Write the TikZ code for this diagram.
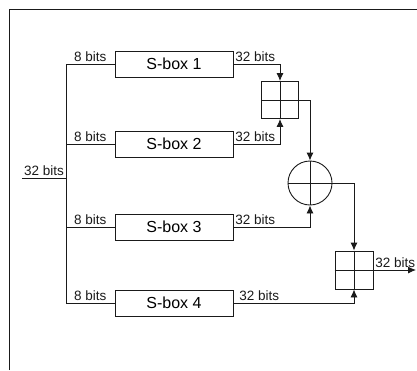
\documentclass[tikz,border=0pt]{standalone}
\usepackage{fontspec}
\setmainfont{Liberation Sans}
\usetikzlibrary{arrows.meta, positioning, shapes.geometric}
\definecolor{trait}{HTML}{1A1A1A}

\tikzset{
  sboite/.style={draw=trait, line width=0.9pt, minimum width=118pt, minimum height=26pt,
    inner sep=0pt, font=\fontsize{16}{16}\selectfont},
  addmod/.style={draw=trait, line width=0.9pt, minimum size=37pt, inner sep=0pt},
  ouex/.style={draw=trait, line width=0.9pt, circle, minimum size=44pt, inner sep=0pt},
  fil/.style={draw=trait, line width=0.9pt},
  fleche/.style={fil, -{Latex[length=8pt, width=7pt]}},
  etiq/.style={font=\fontsize{13.5}{13.5}\selectfont, inner sep=1.5pt, text=trait}
}

\begin{document}
\begin{tikzpicture}[x=1pt, y=-1pt]
    \useasboundingbox (0,0) rectangle (417,370);
    % cadre
    \draw[fil] (9,370) -- (9,9) -- (417,9);

    % bus d'entree
    \coordinate (bushaut) at (66,64);
    \coordinate (busbas) at (66,303);
    \coordinate (entree) at (22,178);
    \draw[fil] (bushaut) -- (busbas);
    \draw[fil] (entree) -- (entree -| bushaut) node[etiq, midway, above] {32 bits};

    % S-boxes
    \foreach \i/\y in {1/64, 2/144, 3/227, 4/303} {
      \node[sboite] (sbox\i) at (174,\y) {S-box \i};
      \draw[fil] (sbox\i.west -| bushaut) -- (sbox\i.west) node[etiq, midway, above] {8 bits};
    }

    % operateurs
    \node[addmod] (add1) at (280,100) {};
    \node[ouex] (xor) at (310,183) {};
    \node[addmod, minimum size=38pt] (add2) at (354,270) {};
    \coordinate (sortie) at (416,270);
    \foreach \n in {add1, xor, add2} {
      \draw[fil] (\n.north) -- (\n.south);
      \draw[fil] (\n.west) -- (\n.east);
    }

    % liaisons
    \draw[fleche] (sbox1.east) -| (add1.north) node[etiq, pos=0, above right] {32 bits};
    \draw[fleche] (sbox2.east) -| (add1.south) node[etiq, pos=0, above right] {32 bits};
    \draw[fleche] (add1.east) -| (xor.north);
    \draw[fleche] (sbox3.east) -| (xor.south) node[etiq, pos=0, above right] {32 bits};
    \draw[fleche] (xor.east) -| (add2.north);
    \draw[fleche] (sbox4.east) -| (add2.south) node[etiq, pos=0, above right, xshift=4pt] {32 bits};
    \draw[fleche] (add2.east) -- (sortie) node[etiq, pos=0, above right] {32 bits};
  \end{tikzpicture}
\end{document}
